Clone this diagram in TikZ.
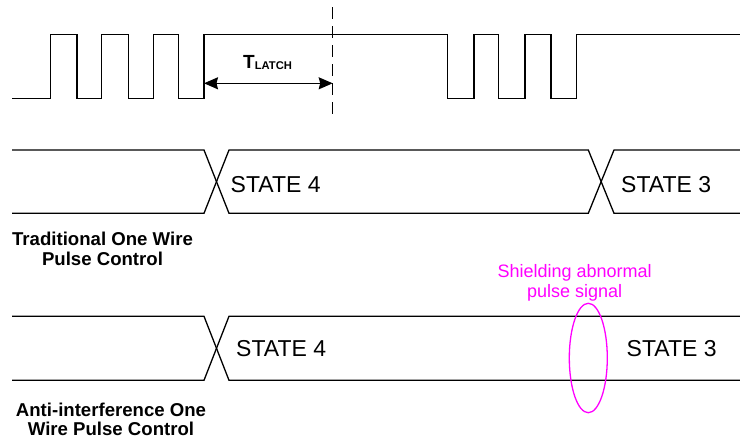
\documentclass[tikz,border=0pt]{standalone}
\usepackage{fontspec}
\setmainfont{Liberation Sans}
\usetikzlibrary{arrows.meta,shapes.geometric}
\definecolor{notecol}{RGB}{255,0,255}
\begin{document}
\begin{tikzpicture}[x=1pt,y=-1pt,
  sig/.style={line width=1.3pt, line join=miter},
  statelbl/.style={font=\fontsize{23}{26}\selectfont, anchor=base west, inner sep=0pt},
  rowlbl/.style={font=\bfseries\fontsize{18.6}{20}\selectfont, anchor=base, inner sep=0pt},
  note/.style={text=notecol, font=\fontsize{18}{20}\selectfont, anchor=base, inner sep=0pt},
  dimarrow/.style={line width=1.3pt, {Stealth[length=14pt,width=12pt,inset=1.5pt]}-{Stealth[length=14pt,width=12pt,inset=1.5pt]}}]
\useasboundingbox (0,0) rectangle (740,439);
% pulse waveform
\draw[sig] (12,98.5) -- (50.7,98.5) -- (50.7,34.5) -- (77,34.5) -- (77,98.5) -- (101.7,98.5) -- (101.7,34.5) -- (128.3,34.5) -- (128.3,98.5) -- (153.3,98.5) -- (153.3,34.5) -- (178.3,34.5) -- (178.3,98.5) -- (204,98.5) -- (204,34.5) -- (447.3,34.5) -- (447.3,98.5) -- (474,98.5) -- (474,34.5) -- (498.7,34.5) -- (498.7,98.5) -- (525,98.5) -- (525,34.5) -- (551,34.5) -- (551,98.5) -- (576.7,98.5) -- (576.7,34.5) -- (740,34.5);
% latch marker
\coordinate (dtop) at (332.7,7);
\coordinate (dbot) at (332.7,120);
\draw[line width=1.3pt, dash pattern=on 12pt off 7pt] (dtop) -- (dbot);
\coordinate (la) at (204,83.3);
\coordinate (ra) at (332.7,83.3);
\draw[dimarrow] (la) -- (ra);
\node (tl) [anchor=base west, inner sep=0pt, font=\bfseries] at (243,68.3) {\fontsize{19}{20}\selectfont T\raisebox{-1pt}{\fontsize{11.2}{12}\selectfont LATCH}};
% bus 1
\draw[sig] (12,150) -- (204,150) -- (229,213.3) -- (588.3,213.3) -- (614,150) -- (740,150);
\draw[sig] (12,213.3) -- (204,213.3) -- (229,150) -- (588.3,150) -- (614,213.3) -- (740,213.3);
\node (s4a) [statelbl] at (230.5,192) {STATE 4};
\node (s3a) [statelbl] at (621,192.7) {STATE 3};
\node (l1a) [rowlbl] at (102.5,245) {Traditional One Wire};
\node (l1b) [rowlbl] at (102.5,265) {Pulse Control};
% bus 2
\draw[sig] (12,316.3) -- (204,316.3) -- (229,380.3) -- (740,380.3);
\draw[sig] (12,380.3) -- (204,380.3) -- (229,316.3) -- (740,316.3);
\node (s4b) [statelbl] at (236,356.5) {STATE 4};
\node (s3b) [statelbl] at (626.5,356.5) {STATE 3};
\node (l2a) [rowlbl] at (111,416.5) {Anti-interference One};
\node (l2b) [rowlbl] at (111,435.5) {Wire Pulse Control};
% note
\node (ell) [draw=notecol, line width=1.3pt, ellipse, minimum width=38pt, minimum height=109.4pt, inner sep=0pt] at (588.3,358) {};
\node (n1) [note] at (574.7,277.3) {Shielding abnormal};
\node (n2) [note] at (574.7,297.3) {pulse signal};
\end{tikzpicture}
\end{document}
